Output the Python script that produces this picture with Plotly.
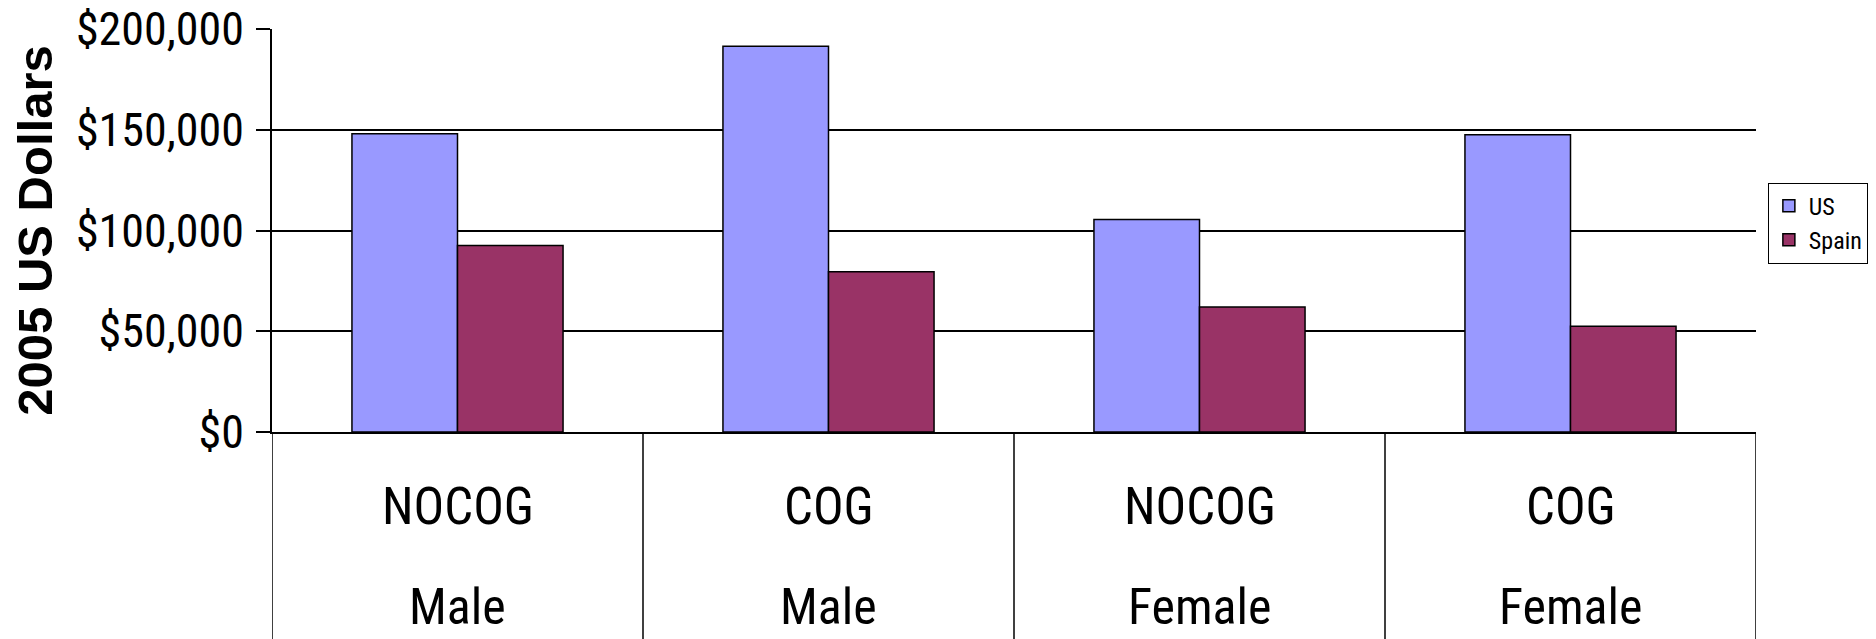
import plotly.graph_objects as go

categories = ["NOCOG", "COG", "NOCOG", "COG"]
genders = ["Male", "Male", "Female", "Female"]
series_names = ["US", "Spain"]
us_values = [148000, 191500, 105500, 147500]
spain_values = [92500, 79500, 62000, 52500]
y_ticks = [0, 50000, 100000, 150000, 200000]

NARROW = "Liberation Sans Narrow, Arial Narrow, Roboto Condensed, DejaVu Sans Condensed, sans-serif"

x_idx = list(range(len(categories)))

fig = go.Figure()
fig.add_trace(go.Bar(x=x_idx, y=us_values, name=series_names[0],
                     marker=dict(color="#9999FF", line=dict(color="#000000", width=1.5))))
fig.add_trace(go.Bar(x=x_idx, y=spain_values, name=series_names[1],
                     marker=dict(color="#993366", line=dict(color="#000000", width=1.5))))

# vertical dividers below axis between categories
for b in [i - 0.5 for i in range(len(categories) + 1)]:
    fig.add_shape(type="line", xref="x", yref="paper", x0=b, x1=b, y0=0, y1=-0.6,
                  line=dict(color="#000000", width=1.5))

for i, (c, g) in enumerate(zip(categories, genders)):
    fig.add_annotation(x=i, y=-0.186, xref="x", yref="paper", text=c, showarrow=False,
                       yanchor="middle", font=dict(family=NARROW, size=51, color="#000000"))
    fig.add_annotation(x=i, y=-0.435, xref="x", yref="paper", text=g, showarrow=False,
                       yanchor="middle", font=dict(family=NARROW, size=50, color="#000000"))

fig.update_layout(
    width=1868, height=631,
    margin=dict(l=264, r=120, t=21, b=207, autoexpand=False),
    paper_bgcolor="#FFFFFF", plot_bgcolor="#FFFFFF",
    barmode="group", bargap=0.431, bargroupgap=0,
    showlegend=True,
    legend=dict(x=1.008, y=0.619, xanchor="left", yanchor="top",
                bgcolor="#FFFFFF", bordercolor="#000000", borderwidth=1,
                font=dict(family=NARROW, size=24, color="#000000"),
                itemwidth=30, tracegroupgap=8),
    xaxis=dict(range=[-0.5, len(categories) - 0.5], showticklabels=False, ticks="",
               showgrid=False, zeroline=False, showline=True, linecolor="#000000", linewidth=2,
               fixedrange=True),
    yaxis=dict(range=[0, 200000], tickvals=y_ticks, tickformat="$,.0f",
               showgrid=True, gridcolor="#000000", gridwidth=1.8,
               ticks="outside", ticklen=14, tickcolor="#000000", tickwidth=1.8,
               ticklabelstandoff=3, ticklabeloverflow="allow",
               showline=True, linecolor="#000000", linewidth=1.8, zeroline=False,
               tickfont=dict(family=NARROW, size=46, color="#000000"),
               title=dict(text="<b>2005 US Dollars</b>", standoff=20,
                          font=dict(family="Liberation Sans, Arial, sans-serif", size=49, color="#000000")),
               fixedrange=True),
)

fig.write_html("out.html")
